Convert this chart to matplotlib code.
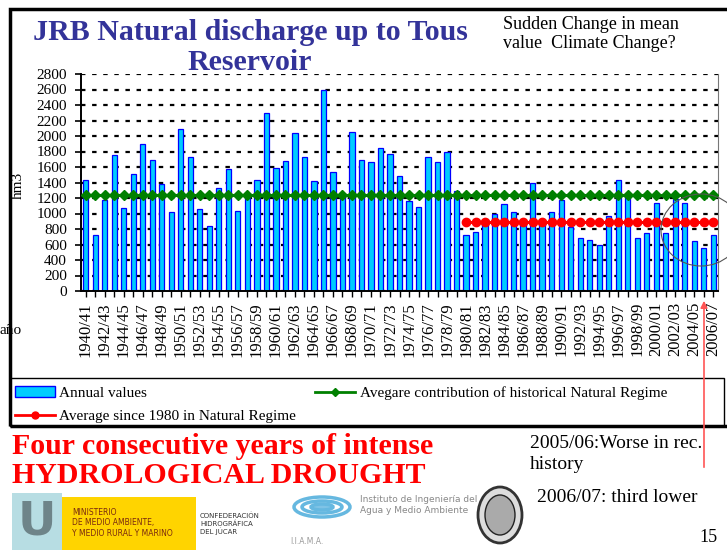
import numpy as np
import matplotlib
matplotlib.use('Agg')
import matplotlib.pyplot as plt
from matplotlib.patches import Rectangle, Ellipse, FancyArrowPatch
from matplotlib.lines import Line2D

plt.rcParams['font.family'] = ['Liberation Serif', 'DejaVu Serif']

years = [f'{y}/{str(y + 1)[-2:]}' for y in range(1940, 2007)]
annual = [1430, 720, 1180, 1755, 1075, 1510, 1895, 1695, 1385, 1015,
          2095, 1725, 1060, 845, 1330, 1575, 1030, 1240, 1430, 2295,
          1585, 1675, 2035, 1735, 1425, 2600, 1535, 1235, 2050, 1695,
          1660, 1850, 1770, 1490, 1155, 1090, 1735, 1660, 1790, 1290,
          720, 765, 875, 1000, 1120, 1015, 880, 1400, 880, 1015,
          1170, 825, 690, 660, 600, 970, 1430, 1240, 690, 750,
          1135, 750, 1185, 1135, 640, 550, 720]
hist_mean = 1243
mean_1980 = 895
start_1980 = years.index('1980/81')

W, H = 727, 550
fig = plt.figure(figsize=(W / 100, H / 100), dpi=100)


def fx(x):
    return x / W


def fy(y):
    return 1 - y / H


ax = fig.add_axes([fx(81), fy(291), fx(718) - fx(81), fy(74) - fy(291)])
x = np.arange(len(years))
ax.bar(x, annual, width=0.55, color='#00CCFF', edgecolor='#0000FF',
       linewidth=0.9, zorder=2)
ax.plot(x, [hist_mean] * len(x), color='#008000', lw=2.2,
        marker='D', ms=5, zorder=3)
ax.plot(x[start_1980:], [mean_1980] * (len(x) - start_1980),
        color='#FF0000', lw=2.2, marker='o', ms=6, zorder=3)

ax.set_xlim(-0.5, len(years) - 0.5)
ax.set_ylim(0, 2800)
ax.set_yticks(range(0, 2801, 200))
ax.yaxis.grid(True, linestyle=(0, (2, 3)), color='black', lw=1.6, zorder=1)
ax.set_axisbelow(True)
ax.tick_params(axis='y', labelsize=11, length=4, width=1.2, pad=6)
ax.set_xticks(x)
ax.set_xticklabels([y if i % 2 == 0 else '' for i, y in enumerate(years)],
                   rotation=90, fontsize=12)
ax.tick_params(axis='x', length=4, width=1, pad=4)
ax.spines['top'].set_visible(False)
ax.spines['right'].set_color('#777777')
ax.spines['left'].set_linewidth(1.4)
ax.spines['bottom'].set_linewidth(1.4)

fig.text(fx(18), fy(185), 'hm3', rotation=90, fontsize=11, ha='center', va='center')
fig.text(fx(0), fy(330), 'año', fontsize=11, ha='left', va='center')

# titles
title_kw = dict(fontsize=21.5, fontweight='bold', color='#333399', ha='center',
                va='baseline')
fig.text(fx(250), fy(40), 'JRB Natural discharge up to Tous', **title_kw)
fig.text(fx(250), fy(70), 'Reservoir', **title_kw)
fig.text(fx(503), fy(34), 'Sudden Change in mean\nvalue  Climate Change?',
         fontsize=13, ha='left', va='center', linespacing=1.1)

# frame
fig.add_artist(Rectangle((fx(10), fy(426)), fx(740) - fx(10), fy(9) - fy(426),
                         transform=fig.transFigure, fill=False, ec='black', lw=2.5))
fig.add_artist(Rectangle((fx(10), fy(426)), fx(724) - fx(10), fy(378) - fy(426),
                         transform=fig.transFigure, fill=False, ec='black', lw=1.0))

# legend
bar_h = Rectangle((0, 0), 1, 1, fc='#00CCFF', ec='#0000FF', lw=1)
red_h = Line2D([], [], color='#FF0000', lw=2, marker='o', ms=5)
green_h = Line2D([], [], color='#008000', lw=2, marker='D', ms=4)
fig.legend([bar_h, red_h, green_h],
           ['Annual values', 'Average since 1980 in Natural Regime',
            'Avegare contribution of historical Natural Regime'],
           loc='lower left', mode='expand', ncol=2, frameon=False, fontsize=11,
           bbox_to_anchor=(fx(12), fy(426), fx(670) - fx(12), fy(380) - fy(426)),
           handlelength=2.6, handletextpad=0.3, borderaxespad=0, labelspacing=0.6,
           borderpad=0.2)

# circle and arrow
fig.add_artist(Ellipse((fx(701), fy(230)), 80 / W, 72 / H, transform=fig.transFigure,
                       fill=False, ec='#555555', lw=0.8))
fig.add_artist(FancyArrowPatch(
    (fx(704), fy(470)), (fx(704), fy(298)), transform=fig.transFigure,
    arrowstyle='-|>', mutation_scale=10, color='#FF5555', lw=1.2))

# bottom texts
fig.text(fx(12), fy(461), 'Four consecutive years of intense\nHYDROLOGICAL DROUGHT',
         fontsize=21.5, fontweight='bold', color='#FF0000', ha='left', va='center',
         linespacing=1.05)
fig.text(fx(530), fy(454), '2005/06:Worse in rec.\nhistory', fontsize=14,
         ha='left', va='center', linespacing=1.3)
fig.text(fx(537), fy(497), '2006/07: third lower', fontsize=14, ha='left', va='center')
fig.text(fx(718), fy(537), '15', fontsize=13, ha='right', va='center')

# logos (approximate)
fig.add_artist(Rectangle((fx(12), fy(550)), fx(62) - fx(12), fy(493) - fy(550),
                         transform=fig.transFigure, fc='#B7DDE3', ec='none'))
fig.text(fx(37), fy(522), 'U', fontsize=34, fontweight='bold', color='#6E8489',
         ha='center', va='center', family='DejaVu Sans')
fig.add_artist(Rectangle((fx(62), fy(550)), fx(196) - fx(62), fy(497) - fy(550),
                         transform=fig.transFigure, fc='#FFD400', ec='none'))
fig.text(fx(72), fy(523), 'MINISTERIO\nDE MEDIO AMBIENTE,\nY MEDIO RURAL Y MARINO',
         fontsize=5.5, color='#7A2A10', ha='left', va='center', family='DejaVu Sans')
fig.text(fx(200), fy(524), 'CONFEDERACIÓN\nHIDROGRÁFICA\nDEL JÚCAR',
         fontsize=5, color='#333333', ha='left', va='center', family='DejaVu Sans')
for k, (w, h) in enumerate([(56, 20), (40, 12), (22, 6)]):
    fig.add_artist(Ellipse((fx(322), fy(507)), w / W, h / H, transform=fig.transFigure,
                           fill=(k == 2), fc='#7FC3E6', ec='#66B8E0', lw=2.5))
fig.text(fx(360), fy(505), 'Instituto de Ingeniería del\nAgua y Medio Ambiente',
         fontsize=6.5, color='#888888', ha='left', va='center', family='DejaVu Sans')
fig.text(fx(290), fy(541), 'I.I.A.M.A.', fontsize=5.5, color='#999999',
         ha='left', va='center', family='DejaVu Sans')
fig.add_artist(Ellipse((fx(500), fy(515)), 44 / W, 56 / H, transform=fig.transFigure,
                       fc='#DDDDDD', ec='#333333', lw=2))
fig.add_artist(Ellipse((fx(500), fy(515)), 30 / W, 40 / H, transform=fig.transFigure,
                       fc='#AAAAAA', ec='#222222', lw=1))

fig.savefig('out.png', dpi=100)
